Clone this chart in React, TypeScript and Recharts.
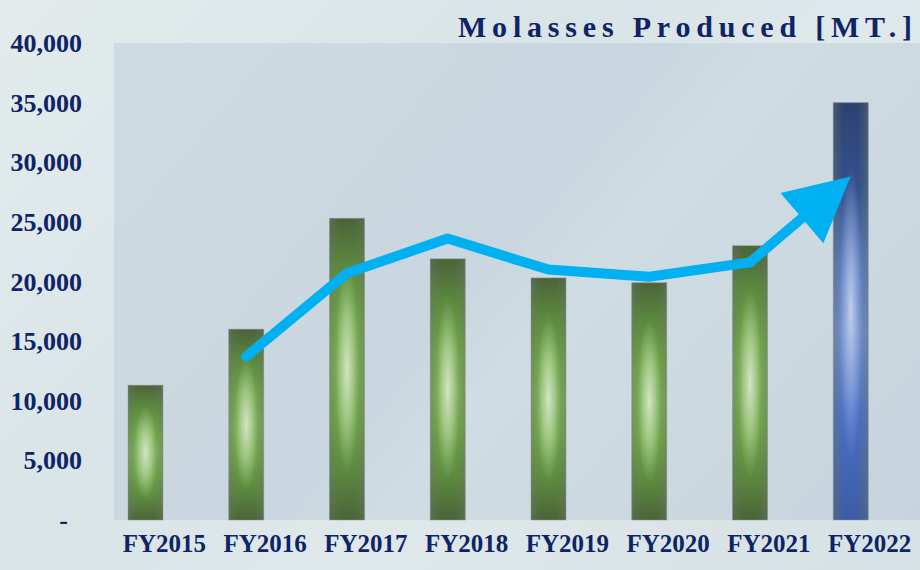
import { Bar, Cell, ComposedChart, Line, XAxis, YAxis } from "recharts";

const years = ["FY2015", "FY2016", "FY2017", "FY2018", "FY2019", "FY2020", "FY2021", "FY2022"];
const produced = [11300, 16000, 25300, 21900, 20300, 19900, 23000, 35000];
const trend = [null, 13700, 20700, 23600, 21000, 20400, 21600, null];
const trendTip = [null, null, null, null, null, null, null, 28800];
const yTicks = [0, 5000, 10000, 15000, 20000, 25000, 30000, 35000, 40000];

const data = years.map((year, i) => ({
  year,
  produced: produced[i],
  trend: trend[i],
  tip: trendTip[i],
}));

const W = 920;
const H = 570;
const MARGIN = { top: 43, right: 19, bottom: 0, left: 0 };
const Y_W = 95;
const X_H = 50;
const PLOT_W = W - MARGIN.left - MARGIN.right - Y_W;
const PLOT_H = H - MARGIN.top - MARGIN.bottom - X_H;
const BAND = PLOT_W / years.length;
const PX_PER_UNIT = PLOT_H / 40000;

const INK = "#0e2466";
const ARROW = "#00b0f0";
const FONT = "'Liberation Serif', 'DejaVu Serif', serif";

function fmt(v: number) {
  return v === 0 ? "-" : v.toLocaleString("en-US");
}

function YTick({ x, y, payload }: any) {
  const zero = payload.value === 0;
  return (
    <text
      x={x - 5 - (zero ? 14 : 0)}
      y={y}
      dy={9}
      textAnchor="end"
      fill={INK}
      fontFamily={FONT}
      fontWeight={700}
      fontSize={26}
    >
      {fmt(payload.value)}
    </text>
  );
}

function XTick({ x, y, payload }: any) {
  return (
    <text
      x={x + 19}
      y={y}
      dy={24}
      textAnchor="middle"
      fill={INK}
      fontFamily={FONT}
      fontWeight={700}
      fontSize={25}
    >
      {payload.value}
    </text>
  );
}

function GlowBar({ x, y, width, height, fill }: any) {
  if (!height || height <= 0) return <g />;
  const blue = String(fill).includes("blue");
  return (
    <g>
      <rect x={x} y={y} width={width} height={height} fill={fill} />
      <rect x={x} y={y} width={width} height={height} fill={blue ? "url(#blueHi)" : "url(#greenHi)"} />
      <rect x={x} y={y} width={width} height={height} fill="url(#edgeShade)" />
      <rect x={x} y={y} width={width} height={height} fill="none" stroke="rgba(140,150,150,0.5)" strokeWidth={1} />
    </g>
  );
}

// arrowhead on the last trend point, pointing away from FY2021
function ArrowDot(props: any) {
  const { cx, cy, index } = props;
  const tip = trendTip[index];
  const prevVal = trend[index - 1];
  if (cx == null || cy == null || tip == null || prevVal == null) return <g key={`a${index}`} />;
  const px = cx - BAND;
  const py = cy + (tip - prevVal) * PX_PER_UNIT;
  const dx = cx - px;
  const dy = cy - py;
  const len = Math.hypot(dx, dy);
  const ux = dx / len;
  const uy = dy / len;
  const headL = 64;
  const headW = 33;
  const bx = cx - ux * headL;
  const by = cy - uy * headL;
  const nx = -uy;
  const ny = ux;
  return (
    <g key={`a${index}`}>
      <line
        x1={px}
        y1={py}
        x2={bx + ux * 4}
        y2={by + uy * 4}
        stroke={ARROW}
        strokeWidth={10}
        strokeLinecap="round"
      />
      <polygon
        points={`${cx},${cy} ${bx + nx * headW},${by + ny * headW} ${bx - nx * headW},${by - ny * headW}`}
        fill={ARROW}
      />
    </g>
  );
}

export default function App() {
  return (
    <div
      style={{
        position: "absolute",
        left: 0,
        top: 0,
        width: W,
        height: H,
        overflow: "hidden",
        background:
          "linear-gradient(135deg, #e3ebec 0%, #d9e4e7 40%, #dfe8ea 60%, #d6e1e5 100%)",
      }}
    >
      <svg width={0} height={0} style={{ position: "absolute" }}>
        <defs>
          <linearGradient id="greenBody" x1="0" y1="0" x2="0" y2="1">
            <stop offset="0%" stopColor="#4c6339" />
            <stop offset="15%" stopColor="#5a873e" />
            <stop offset="35%" stopColor="#70aa47" />
            <stop offset="50%" stopColor="#7cb255" />
            <stop offset="65%" stopColor="#70aa47" />
            <stop offset="85%" stopColor="#5a873e" />
            <stop offset="100%" stopColor="#4c6339" />
          </linearGradient>
          <radialGradient id="greenHi" cx="50%" cy="50%" r="50%">
            <stop offset="0%" stopColor="#d8e8cc" stopOpacity={0.95} />
            <stop offset="35%" stopColor="#c6dcb2" stopOpacity={0.55} />
            <stop offset="70%" stopColor="#b0cc98" stopOpacity={0} />
          </radialGradient>
          <linearGradient id="blueBody" x1="0" y1="0" x2="0" y2="1">
            <stop offset="0%" stopColor="#2c4272" />
            <stop offset="20%" stopColor="#34508c" />
            <stop offset="40%" stopColor="#5b7cc4" />
            <stop offset="55%" stopColor="#6f8fd2" />
            <stop offset="75%" stopColor="#4a70c4" />
            <stop offset="100%" stopColor="#3c5ca4" />
          </linearGradient>
          <radialGradient id="blueHi" cx="50%" cy="50%" r="50%">
            <stop offset="0%" stopColor="#c6d2ec" stopOpacity={0.95} />
            <stop offset="35%" stopColor="#b0c0e6" stopOpacity={0.5} />
            <stop offset="70%" stopColor="#9ab0e0" stopOpacity={0} />
          </radialGradient>
          <linearGradient id="edgeShade" x1="0" y1="0" x2="1" y2="0">
            <stop offset="0%" stopColor="#6a7468" stopOpacity={0.45} />
            <stop offset="30%" stopColor="#6a7468" stopOpacity={0} />
            <stop offset="70%" stopColor="#6a7468" stopOpacity={0} />
            <stop offset="100%" stopColor="#6a7468" stopOpacity={0.45} />
          </linearGradient>
        </defs>
      </svg>
      <div
        style={{
          position: "absolute",
          left: 114,
          top: 43,
          width: W - 114,
          height: 477,
          background:
            "linear-gradient(130deg, #cfdbe2 0%, #c9d6df 45%, #d0dce3 55%, #c7d4dd 100%)",
        }}
      />
      <svg width={W} height={60} style={{ position: "absolute", left: 0, top: 0 }}>
        <text
          x={458}
          y={37}
          fill={INK}
          fontFamily={FONT}
          fontWeight={700}
          fontSize={30}
          letterSpacing={5.8}
        >
          Molasses Produced [MT.]
        </text>
      </svg>
      <div style={{ position: "absolute", left: 0, top: 0 }}>
        <ComposedChart width={W} height={H} data={data} margin={MARGIN}>
          <XAxis
            dataKey="year"
            axisLine={false}
            tickLine={false}
            height={X_H}
            interval={0}
            tick={<XTick />}
          />
          <YAxis
            width={Y_W}
            domain={[0, 40000]}
            ticks={yTicks}
            interval={0}
            axisLine={false}
            tickLine={false}
            tick={<YTick />}
          />
          <Bar dataKey="produced" barSize={35} isAnimationActive={false} shape={<GlowBar />}>
            {data.map((d, i) => (
              <Cell key={d.year} fill={i === data.length - 1 ? "url(#blueBody)" : "url(#greenBody)"} />
            ))}
          </Bar>
          <Line
            dataKey="trend"
            stroke={ARROW}
            strokeWidth={10}
            strokeLinecap="round"
            strokeLinejoin="round"
            dot={false}
            activeDot={false}
            isAnimationActive={false}
          />
          <Line
            dataKey="tip"
            stroke="none"
            dot={(p: any) => <ArrowDot key={`tip${p.index}`} {...p} />}
            activeDot={false}
            isAnimationActive={false}
          />
        </ComposedChart>
      </div>
    </div>
  );
}
